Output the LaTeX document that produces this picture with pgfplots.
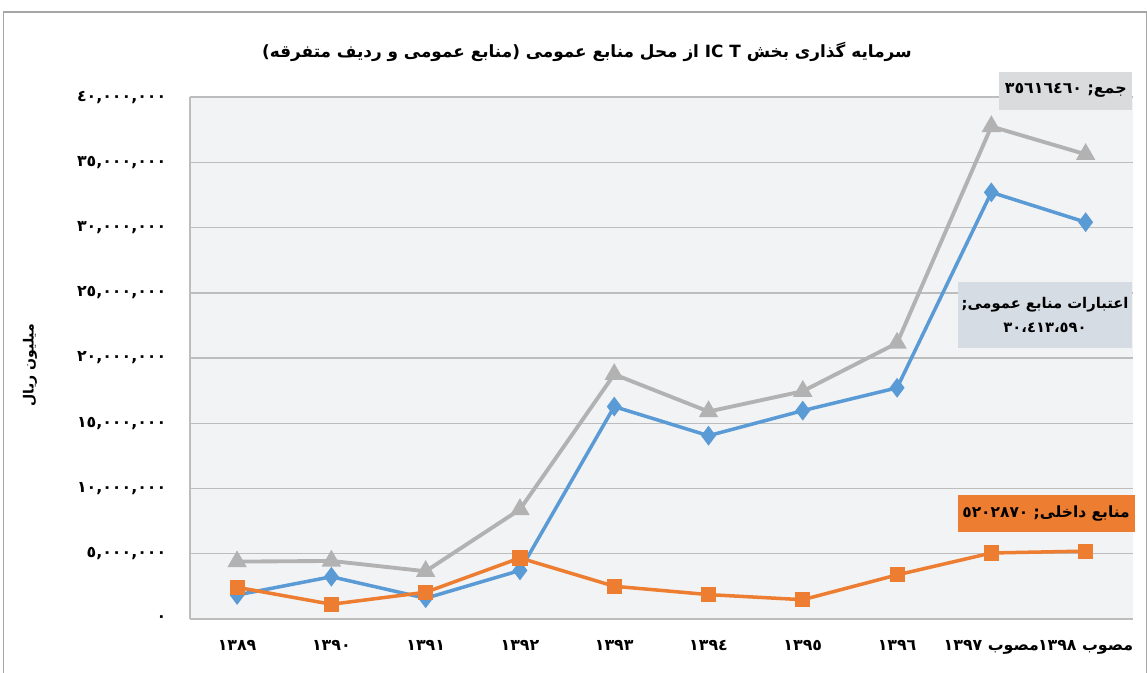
\documentclass[border=0pt]{standalone}
\usepackage{pgfplots}
\pgfplotsset{compat=1.18}
\usepackage{fontspec}
\setmainfont{DejaVu Sans}
\newfontfamily\fa[Script=Arabic]{DejaVu Sans}
\TeXXeTstate=1
\definecolor{cblue}{HTML}{5B9BD5}
\definecolor{corange}{HTML}{ED7D31}
\definecolor{cgray}{HTML}{B2B2B2}
\definecolor{plotbg}{HTML}{F2F3F5}
\definecolor{gridc}{HTML}{BDBDBD}
\definecolor{boxgray}{HTML}{DADBDD}
\definecolor{boxblue}{HTML}{D6DCE4}
\begin{document}
\begin{tikzpicture}[x=0.02cm,y=0.02cm]
\path[use as bounding box] (0,0) rectangle (1147,673);
\draw[gray!70, line width=0.6pt] (3.5,-5) -- (3.5,661) -- (1146.5,661) -- (1146.5,-5);
\node[font=\fa\bfseries\fontsize{9.6}{12}\selectfont] at (587,621) {\beginR سرمایه گذاری بخش \beginL IC T\endL{} از محل منابع عمومی (منابع عمومی و ردیف متفرقه)\endR};
\node[font=\fa\bfseries\fontsize{8}{10}\selectfont, rotate=90] at (30,308) {\beginR میلیون ریال\endR};
\begin{axis}[
  at={(3.8cm,1.08cm)}, anchor=south west,
  width=18.86cm, height=10.44cm, scale only axis,
  xmin=-0.5, xmax=9.5, ymin=0, ymax=40000000,
  clip=false,
  axis background/.style={fill=plotbg},
  axis x line*=bottom, axis y line*=left,
  axis line style={gridc, line width=1pt, -},
  ymajorgrids, grid style={gridc, line width=0.8pt},
  major tick length=0pt,
  scaled y ticks=false,
  xtick={0,...,9},
  xticklabels={١٣٨٩,١٣٩٠,١٣٩١,١٣٩٢,١٣٩٣,١٣٩٤,١٣٩٥,١٣٩٦,{\beginR مصوب ١٣٩٧\endR},{\beginR مصوب ١٣٩٨\endR}},
  ytick={0,5000000,10000000,15000000,20000000,25000000,30000000,35000000,40000000},
  yticklabels={٠,{٥,٠٠٠,٠٠٠},{١٠,٠٠٠,٠٠٠},{١٥,٠٠٠,٠٠٠},{٢٠,٠٠٠,٠٠٠},{٢٥,٠٠٠,٠٠٠},{٣٠,٠٠٠,٠٠٠},{٣٥,٠٠٠,٠٠٠},{٤٠,٠٠٠,٠٠٠}},
  xticklabel style={font=\fa\bfseries\fontsize{9}{11}\selectfont, yshift=-0.3cm},
  yticklabel style={font=\fa\bfseries\fontsize{9}{11}\selectfont, xshift=-0.35cm},
]
\addplot[cgray, line width=2.2pt, mark=triangle*, mark size=4.2pt, mark options={solid}] coordinates {
(0,4400000) (1,4450000) (2,3660000) (3,8400000) (4,18750000) (5,15900000) (6,17460000) (7,21150000) (8,37750000) (9,35616460)};
\addplot[cblue, line width=2pt, mark=diamond*, mark size=4pt] coordinates {
(0,1840000) (1,3240000) (2,1590000) (3,3720000) (4,16280000) (5,14050000) (6,15970000) (7,17720000) (8,32700000) (9,30413590)};
\addplot[corange, line width=2pt, mark=square*, mark size=3.3pt] coordinates {
(0,2430000) (1,1130000) (2,2050000) (3,4680000) (4,2510000) (5,1870000) (6,1480000) (7,3380000) (8,5060000) (9,5202870)};
\node[fill=boxgray, minimum width=2.66cm, minimum height=0.76cm, inner sep=1pt, font=\fa\bfseries\fontsize{9}{11}\selectfont] at (axis cs:8.79,40500000) {\beginR جمع; ٣٥٦١٦٤٦٠\endR};
\node[fill=boxblue, minimum width=3.4cm, minimum height=1.32cm, inner sep=2pt, align=center, font=\fa\bfseries\fontsize{8.4}{14}\selectfont] at (axis cs:8.57,23300000) {\beginR اعتبارات منابع  عمومی;\endR\\ ٣٠،٤١٣،٥٩٠};
\node[fill=corange, minimum width=3.54cm, minimum height=0.74cm, inner sep=1pt, font=\fa\bfseries\fontsize{8.8}{11}\selectfont] at (axis cs:8.58,8050000) {\beginR منابع داخلی; ٥٢٠٢٨٧٠\endR};
\end{axis}
\end{tikzpicture}
\end{document}
